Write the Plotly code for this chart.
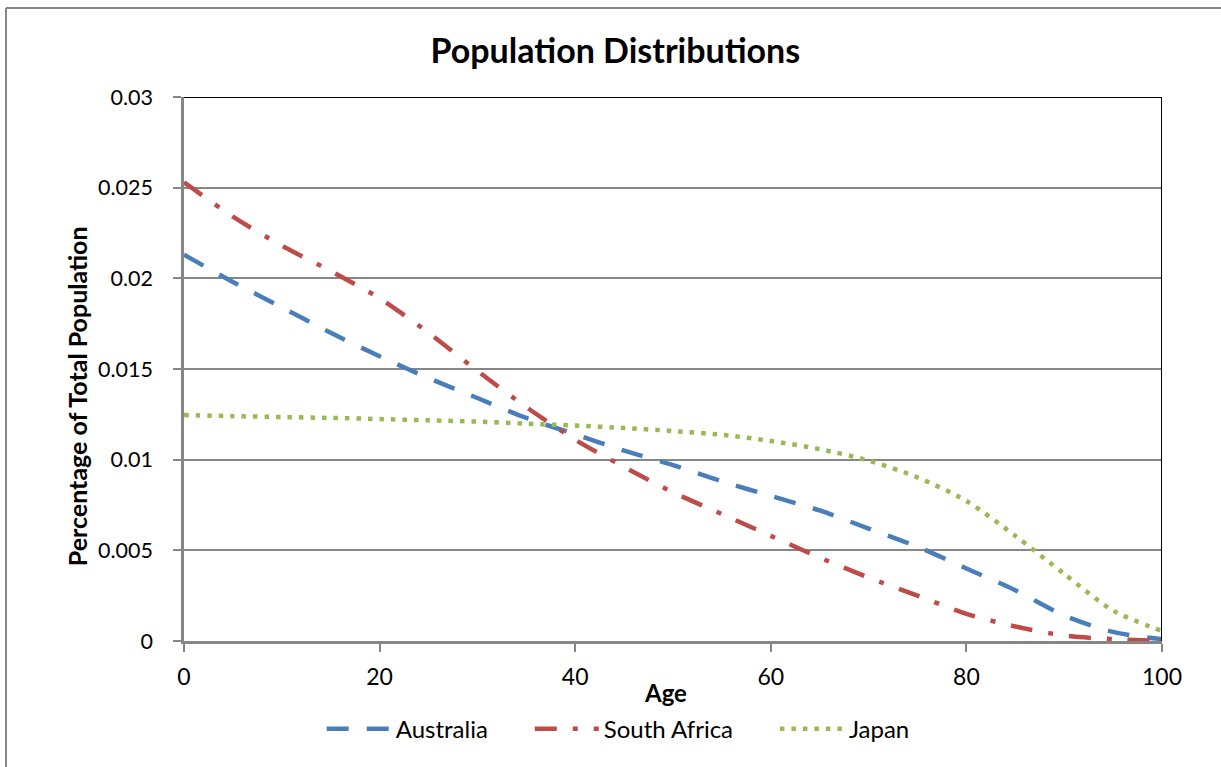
import plotly.graph_objects as go

# Age in years (5-year steps)
ages = [0, 5, 10, 15, 20, 25, 30, 35, 40, 45, 50, 55, 60, 65, 70, 75, 80, 85, 90, 95, 100]

# Share of total population at each age
australia = [0.0213, 0.0198, 0.0184, 0.0170, 0.0157, 0.0145, 0.0134, 0.0123, 0.0114, 0.0105,
             0.0097, 0.0088, 0.0080, 0.0072, 0.0062, 0.0052, 0.0040, 0.0028, 0.0014, 0.0005, 0.0001]
south_africa = [0.0253, 0.0234, 0.0218, 0.0204, 0.0189, 0.0170, 0.0149, 0.0129, 0.0111, 0.0096,
                0.0082, 0.0070, 0.0058, 0.0046, 0.0035, 0.0025, 0.0015, 0.0008, 0.0003, 0.0001, 0.0000]
japan = [0.01246, 0.0124, 0.01235, 0.0123, 0.01224, 0.01217, 0.0121, 0.01198, 0.01188, 0.01175,
         0.01158, 0.01137, 0.01103, 0.01058, 0.00995, 0.00902, 0.00772, 0.00580, 0.00370, 0.00168, 0.00055]

y_ticks = [0, 0.005, 0.01, 0.015, 0.02, 0.025, 0.03]
y_tick_labels = ["0", "0.005", "0.01", "0.015", "0.02", "0.025", "0.03"]
x_ticks = [0, 20, 40, 60, 80, 100]
x_tick_labels = ["0", "20", "40", "60", "80", "100"]

FONT = "Lato"
AXIS_GRAY = "#868686"
PAD = "\u00a0" * 6  # extra space between legend entries

fig = go.Figure()
fig.add_trace(go.Scatter(x=ages, y=australia, name="Australia" + PAD, mode="lines",
                         line=dict(color="#4A7EBB", width=4.5, dash="22px,18px",
                                   shape="spline", smoothing=0.8)))
fig.add_trace(go.Scatter(x=ages, y=south_africa, name="South Africa" + PAD, mode="lines",
                         line=dict(color="#BE4B48", width=4.5, dash="22px,16px,5px,16px",
                                   shape="spline", smoothing=0.8)))
fig.add_trace(go.Scatter(x=ages, y=japan, name="Japan", mode="lines",
                         line=dict(color="#98B954", width=4.5, dash="4.5px,7px",
                                   shape="spline", smoothing=0.8)))

# plot-area border on the top and right
fig.add_shape(type="line", x0=0, x1=100, y0=0.03, y1=0.03, xref="x", yref="y",
              line=dict(color="black", width=2), layer="above")
fig.add_shape(type="line", x0=100, x1=100, y0=0, y1=0.03, xref="x", yref="y",
              line=dict(color="black", width=2), layer="above")

# chart-area frame (left and top edges)
fig.add_shape(type="line", xref="paper", yref="paper",
              x0=-0.182, x1=1.2, y0=1.1636, y1=1.1636,
              line=dict(color=AXIS_GRAY, width=2))
fig.add_shape(type="line", xref="paper", yref="paper",
              x0=-0.182, x1=-0.182, y0=-0.3, y1=1.1636,
              line=dict(color=AXIS_GRAY, width=2))

fig.update_layout(
    width=1221, height=767,
    margin=dict(l=184, r=59, t=97, b=126),
    paper_bgcolor="white", plot_bgcolor="white",
    font=dict(family=FONT, size=24, color="black"),
    title=dict(text="<b>Population Distributions</b>", x=0.504, y=0.9335,
               xref="container", yref="container", xanchor="center", yanchor="middle",
               font=dict(family=FONT, size=34, color="black")),
    showlegend=True,
    legend=dict(orientation="h", x=0.444, y=-0.162, xanchor="center", yanchor="middle",
                itemwidth=64, font=dict(family=FONT, size=24), bgcolor="rgba(0,0,0,0)"),
    xaxis=dict(range=[0, 100], tickvals=x_ticks, ticktext=x_tick_labels,
               showgrid=False, zeroline=False, showline=True, linecolor=AXIS_GRAY, linewidth=2.5,
               ticks="outside", ticklen=8, tickwidth=2, tickcolor=AXIS_GRAY,
               ticklabelstandoff=6, tickfont=dict(family=FONT, size=23)),
    yaxis=dict(range=[0, 0.03], tickvals=y_ticks, ticktext=y_tick_labels,
               showgrid=True, gridcolor=AXIS_GRAY, gridwidth=2, zeroline=False,
               showline=True, linecolor=AXIS_GRAY, linewidth=2.5,
               ticks="outside", ticklen=8, tickwidth=2, tickcolor=AXIS_GRAY,
               ticklabelstandoff=16, tickfont=dict(family=FONT, size=21.5)),
    annotations=[
        dict(text="<b>Age</b>", x=0.492, y=-0.09375, xref="paper", yref="paper",
             xanchor="center", yanchor="middle", showarrow=False,
             font=dict(family=FONT, size=24)),
        dict(text="<b>Percentage of Total Population</b>", x=-0.1094, y=0.45,
             xref="paper", yref="paper", xanchor="center", yanchor="middle",
             textangle=-90, showarrow=False, font=dict(family=FONT, size=25)),
    ],
)

fig.write_html("out.html")
